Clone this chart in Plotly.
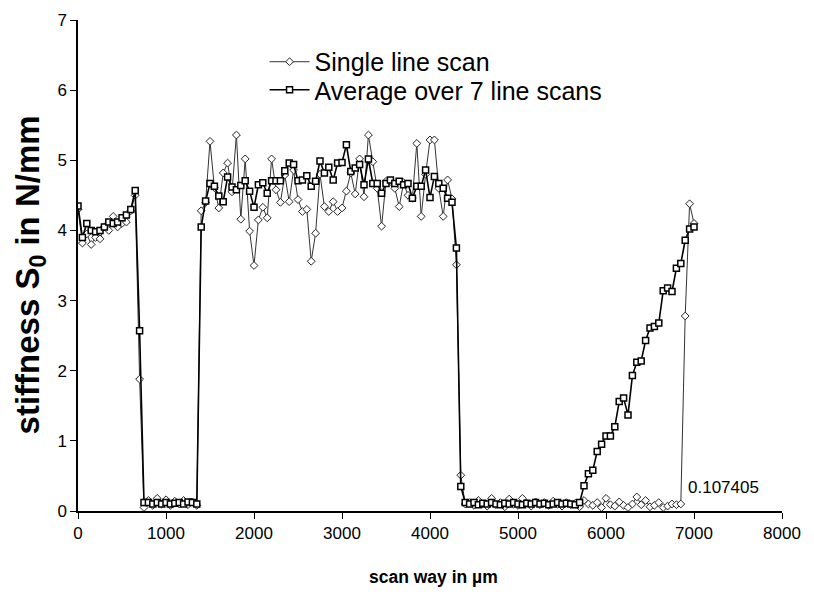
import plotly.graph_objects as go

# scan positions in µm (regular 50 µm step)
scan_x = list(range(0, 7001, 50))

single_scan = [
    4.30, 3.82, 3.95, 3.80, 3.90, 3.88, 4.05, 4.00, 4.20, 4.05, 4.10, 4.12, 4.28, 4.50,
    1.88,
    0.05, 0.15, 0.08, 0.18, 0.10, 0.16, 0.08, 0.14, 0.10, 0.15, 0.09, 0.13, 0.08,
    4.28, 4.40, 5.27, 4.61, 4.32, 4.82, 4.96, 4.55, 5.36, 4.16,
    5.02, 3.99, 3.50, 4.15, 4.33, 4.18, 5.02, 4.58, 4.40, 4.79,
    4.41, 4.86, 4.44, 4.27, 4.30, 3.56, 3.96, 4.80, 4.34, 4.27,
    4.41, 4.27, 4.32, 4.56, 4.82, 4.52, 5.02, 4.48, 5.36, 4.98,
    4.60, 4.06, 4.70, 4.70, 4.60, 4.34, 4.68, 4.50, 4.46, 5.24,
    4.20, 4.80, 5.29, 5.29, 4.60, 4.20, 4.72, 4.45, 3.51,
    0.51, 0.10,
    0.12, 0.08, 0.15, 0.10, 0.07, 0.18, 0.09, 0.12, 0.06, 0.17, 0.10, 0.08, 0.18,
    0.11, 0.07, 0.13, 0.09, 0.12, 0.08, 0.14, 0.10, 0.07, 0.12, 0.09, 0.11,
    0.06, 0.15, 0.10, 0.08, 0.12, 0.05, 0.18, 0.09, 0.07, 0.13, 0.08, 0.05,
    0.10, 0.20, 0.09, 0.15, 0.06, 0.08, 0.12, 0.05, 0.07, 0.10, 0.09,
    0.10, 2.78, 4.38, 4.10,
]

average_scan = [
    4.35, 3.90, 4.10, 4.00, 3.98, 4.00, 4.05, 4.12, 4.10, 4.12, 4.18, 4.22, 4.30, 4.57,
    2.57, 0.12,
    0.12, 0.10, 0.12, 0.10, 0.12, 0.10, 0.11, 0.12, 0.10, 0.13, 0.12, 0.10,
    4.05, 4.42, 4.67, 4.63, 4.49, 4.41, 4.76, 4.62, 4.58, 4.64,
    4.71, 4.56, 4.33, 4.65, 4.68, 4.53, 4.71, 4.71, 4.71, 4.85,
    4.96, 4.94, 4.71, 4.72, 4.78, 4.63, 4.70, 4.99, 4.82, 4.90,
    4.72, 4.96, 4.97, 5.22, 4.84, 4.89, 4.94, 4.65, 5.02, 4.67,
    4.67, 4.53, 4.67, 4.72, 4.67, 4.70, 4.65, 4.67, 4.46, 4.63,
    4.63, 4.86, 4.47, 4.77, 4.67, 4.60, 4.46, 4.40, 3.75,
    0.35, 0.12,
    0.10, 0.12, 0.09, 0.11, 0.10, 0.12, 0.10, 0.09, 0.11, 0.10, 0.12, 0.10, 0.09,
    0.11, 0.10, 0.12, 0.10, 0.11, 0.09, 0.10, 0.12, 0.10, 0.11, 0.10, 0.09,
    0.12, 0.36, 0.53, 0.58, 0.85, 0.95, 1.07, 1.07, 1.20, 1.56, 1.61, 1.37, 1.93,
    2.12, 2.14, 2.43, 2.61, 2.63, 2.68, 3.14, 3.18, 3.13, 3.46, 3.53, 3.86, 4.02, 4.05,
]

x_ticks = [0, 1000, 2000, 3000, 4000, 5000, 6000, 7000, 8000]
y_ticks = [0, 1, 2, 3, 4, 5, 6, 7]
series_names = ["Single line scan", "Average over 7 line scans"]
note_text = "0.107405"
x_title = "<b>scan way in µm</b>"
y_title = "<b>stiffness S<sub>0</sub> in N/mm</b>"

FONT = "Liberation Sans, Arial, sans-serif"

fig = go.Figure()
fig.add_trace(go.Scatter(
    x=scan_x, y=single_scan, mode="lines+markers", name=series_names[0],
    legend="legend",
    line=dict(color="#333333", width=1),
    marker=dict(symbol="diamond", size=6, color="white",
                line=dict(color="#222222", width=1)),
))
fig.add_trace(go.Scatter(
    x=scan_x, y=average_scan, mode="lines+markers", name=series_names[1],
    legend="legend2",
    line=dict(color="black", width=1.6),
    marker=dict(symbol="square", size=6, color="white",
                line=dict(color="black", width=1.5)),
))

fig.add_annotation(x=7330, y=0.33, text=note_text, showarrow=False,
                   font=dict(family=FONT, size=17, color="black"))
fig.add_annotation(xref="paper", yref="paper", x=0.505, y=-0.134,
                   text=x_title, showarrow=False, yanchor="middle",
                   font=dict(family=FONT, size=17.5, color="black"))
fig.add_annotation(xref="paper", yref="paper", x=-0.068, y=0.48,
                   text=y_title, showarrow=False, textangle=-90,
                   xanchor="center", yanchor="middle",
                   font=dict(family=FONT, size=33, color="black"))

legend_common = dict(xanchor="left", yanchor="middle",
                     bgcolor="rgba(0,0,0,0)", font=dict(size=25, family=FONT),
                     itemwidth=40)

fig.update_layout(
    width=814, height=603,
    margin=dict(l=70, r=40, t=12, b=100),
    paper_bgcolor="white", plot_bgcolor="white",
    font=dict(family=FONT, color="black", size=17),
    showlegend=True,
    legend=dict(x=0.265, y=0.9145, **legend_common),
    legend2=dict(x=0.265, y=0.8574, **legend_common),
    xaxis=dict(
        range=[0, 8000], tickvals=x_ticks, ticks="outside", ticklen=6,
        tickwidth=1, tickcolor="black", showline=True, linecolor="black",
        linewidth=1.5, showgrid=False, zeroline=False, automargin=False,
        tickfont=dict(size=17, family=FONT),
    ),
    yaxis=dict(
        range=[0, 7], tickvals=y_ticks, ticks="outside", ticklen=6,
        tickwidth=1, tickcolor="black", showline=True, linecolor="black",
        linewidth=1.5, showgrid=False, zeroline=False, automargin=False,
        tickfont=dict(size=17, family=FONT),
    ),
)

fig.write_html("out.html")
